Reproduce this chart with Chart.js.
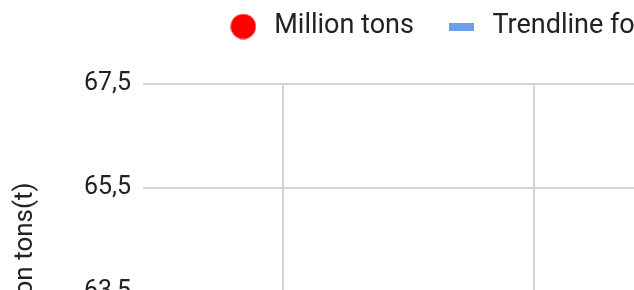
<!DOCTYPE html>
<html>
<head>
<meta charset="utf-8">
<script src="https://cdn.jsdelivr.net/npm/chart.js@4.4.1/dist/chart.umd.min.js"></script>
<style>
    html, body { margin: 0; padding: 0; overflow: hidden; background: #fff; }
    #wrap { position: relative; width: 634px; height: 290px; overflow: hidden; }
    #chart { position: absolute; left: 0; top: -17px; display: block; }
</style>
</head>
<body>
<div id="wrap"><canvas id="chart"></canvas></div>
<script>
// Data
const seriesNames = ['Million tons', 'Trendline for Million tons'];
const years = [2008, 2009, 2010, 2011, 2012, 2013, 2014, 2015, 2016, 2017, 2018, 2019, 2020, 2021, 2022, 2023];
const tons = [61.2, 60.9, 61.8, 62.1, 61.6, 62.4, 62.9, 62.5, 63.1, 62.8, 63.9, 64.3, 63.6, 64.6, 65.1, 64.8];
const trendYears = [2008, 2023];
const trendTons = [60.9, 64.8];
const xTicks = [2010, 2015, 2020];
const yTicks = [61.5, 63.5, 65.5, 67.5];

// Colours
const RED = '#ff0000';
const BLUE = '#6d9eeb';
const GRID = '#d4d4d4';
const TEXT = '#222222';

// Legend geometry
const LEGEND_FONT = 27;
const LEGEND_PAD = 30;
const LEGEND_BOX = 35;
const LEGEND_START = 225.8;

// Axis geometry
const Y_AXIS_WIDTH = 143;
const FIRST_VLINE = 283;     // canvas x of the first vertical gridline
const PX_PER_YEAR = 50.2;
const PX_PER_UNIT = 52;
const CANVAS_H = 486;

// Legend icons
function makeDot() {
    const c = document.createElement('canvas');
    c.width = 26; c.height = 26;
    const g = c.getContext('2d');
    g.fillStyle = RED;
    g.beginPath();
    g.arc(13, 13, 12.6, 0, Math.PI * 2);
    g.fill();
    return c;
}
function makeBar() {
    const c = document.createElement('canvas');
    c.width = 25; c.height = 8;
    const g = c.getContext('2d');
    g.fillStyle = BLUE;
    g.fillRect(0, 0, 25, 8);
    return c;
}
const legendIcons = [makeDot(), makeBar()];

// Canvas width so that the legend lands where it should
const measure = document.createElement('canvas').getContext('2d');
measure.font = `normal ${LEGEND_FONT}px Roboto`;
const lineWidth = seriesNames.reduce((sum, t) =>
    sum + LEGEND_BOX + LEGEND_FONT / 2 + measure.measureText(t).width + LEGEND_PAD, 0);
const canvasW = Math.round(2 * LEGEND_START - LEGEND_PAD + lineWidth);

const canvas = document.getElementById('chart');
canvas.width = canvasW;
canvas.height = CANVAS_H;

const chart = new Chart(canvas.getContext('2d'), {
    type: 'scatter',
    data: {
        datasets: [{
            label: seriesNames[0],
            data: years.map((y, i) => ({ x: y, y: tons[i] })),
            backgroundColor: RED,
            borderColor: RED,
            pointRadius: 7,
            showLine: false
        }, {
            label: seriesNames[1],
            data: trendYears.map((y, i) => ({ x: y, y: trendTons[i] })),
            borderColor: BLUE,
            backgroundColor: BLUE,
            borderWidth: 4,
            pointRadius: 0,
            showLine: true
        }]
    },
    options: {
        responsive: false,
        animation: false,
        layout: { padding: 0 },
        plugins: {
            tooltip: { enabled: false },
            // empty box under the legend, keeps the plot top on the 67,5 line
            title: {
                display: true,
                text: '',
                weight: 500,
                font: { size: 20 },
                padding: { top: 10, bottom: 0 }
            },
            legend: {
                position: 'top',
                labels: {
                    usePointStyle: true,
                    pointStyleWidth: LEGEND_BOX,
                    padding: LEGEND_PAD,
                    color: TEXT,
                    font: { family: 'Roboto', size: LEGEND_FONT },
                    generateLabels(chart) {
                        const items = Chart.defaults.plugins.legend.labels.generateLabels(chart);
                        items.forEach((item, i) => { item.pointStyle = legendIcons[i]; });
                        return items;
                    }
                }
            }
        },
        scales: {
            x: {
                type: 'linear',
                min: 2007,
                max: 2025,
                afterBuildTicks: axis => { axis.ticks = xTicks.map(v => ({ value: v })); },
                ticks: { display: false },
                grid: { color: GRID, lineWidth: 2, drawTicks: false },
                border: { display: false }
            },
            y: {
                min: 60.5,
                max: 67.5,
                afterBuildTicks: axis => { axis.ticks = yTicks.map(v => ({ value: v })); },
                afterFit: axis => { axis.width = Y_AXIS_WIDTH; },
                ticks: {
                    padding: 12,
                    color: TEXT,
                    font: { family: 'Roboto', size: 25 },
                    callback: v => v.toFixed(1).replace('.', ',')
                },
                grid: { color: GRID, lineWidth: 2, drawTicks: false },
                border: { display: false },
                title: {
                    display: true,
                    text: 'Million tons(t)',
                    color: TEXT,
                    font: { family: 'Roboto', size: 26 },
                    padding: { top: 10, bottom: 0 }
                }
            }
        }
    }
});

// Fit the axis ranges to the plot area so the gridlines keep their spacing
const area = chart.chartArea;
const xMin = xTicks[0] - (FIRST_VLINE - area.left) / PX_PER_YEAR;
chart.options.scales.x.min = xMin;
chart.options.scales.x.max = xMin + (area.right - area.left) / PX_PER_YEAR;
chart.options.scales.y.min = yTicks[yTicks.length - 1] - (area.bottom - area.top) / PX_PER_UNIT;
chart.update();
</script>
</body>
</html>
